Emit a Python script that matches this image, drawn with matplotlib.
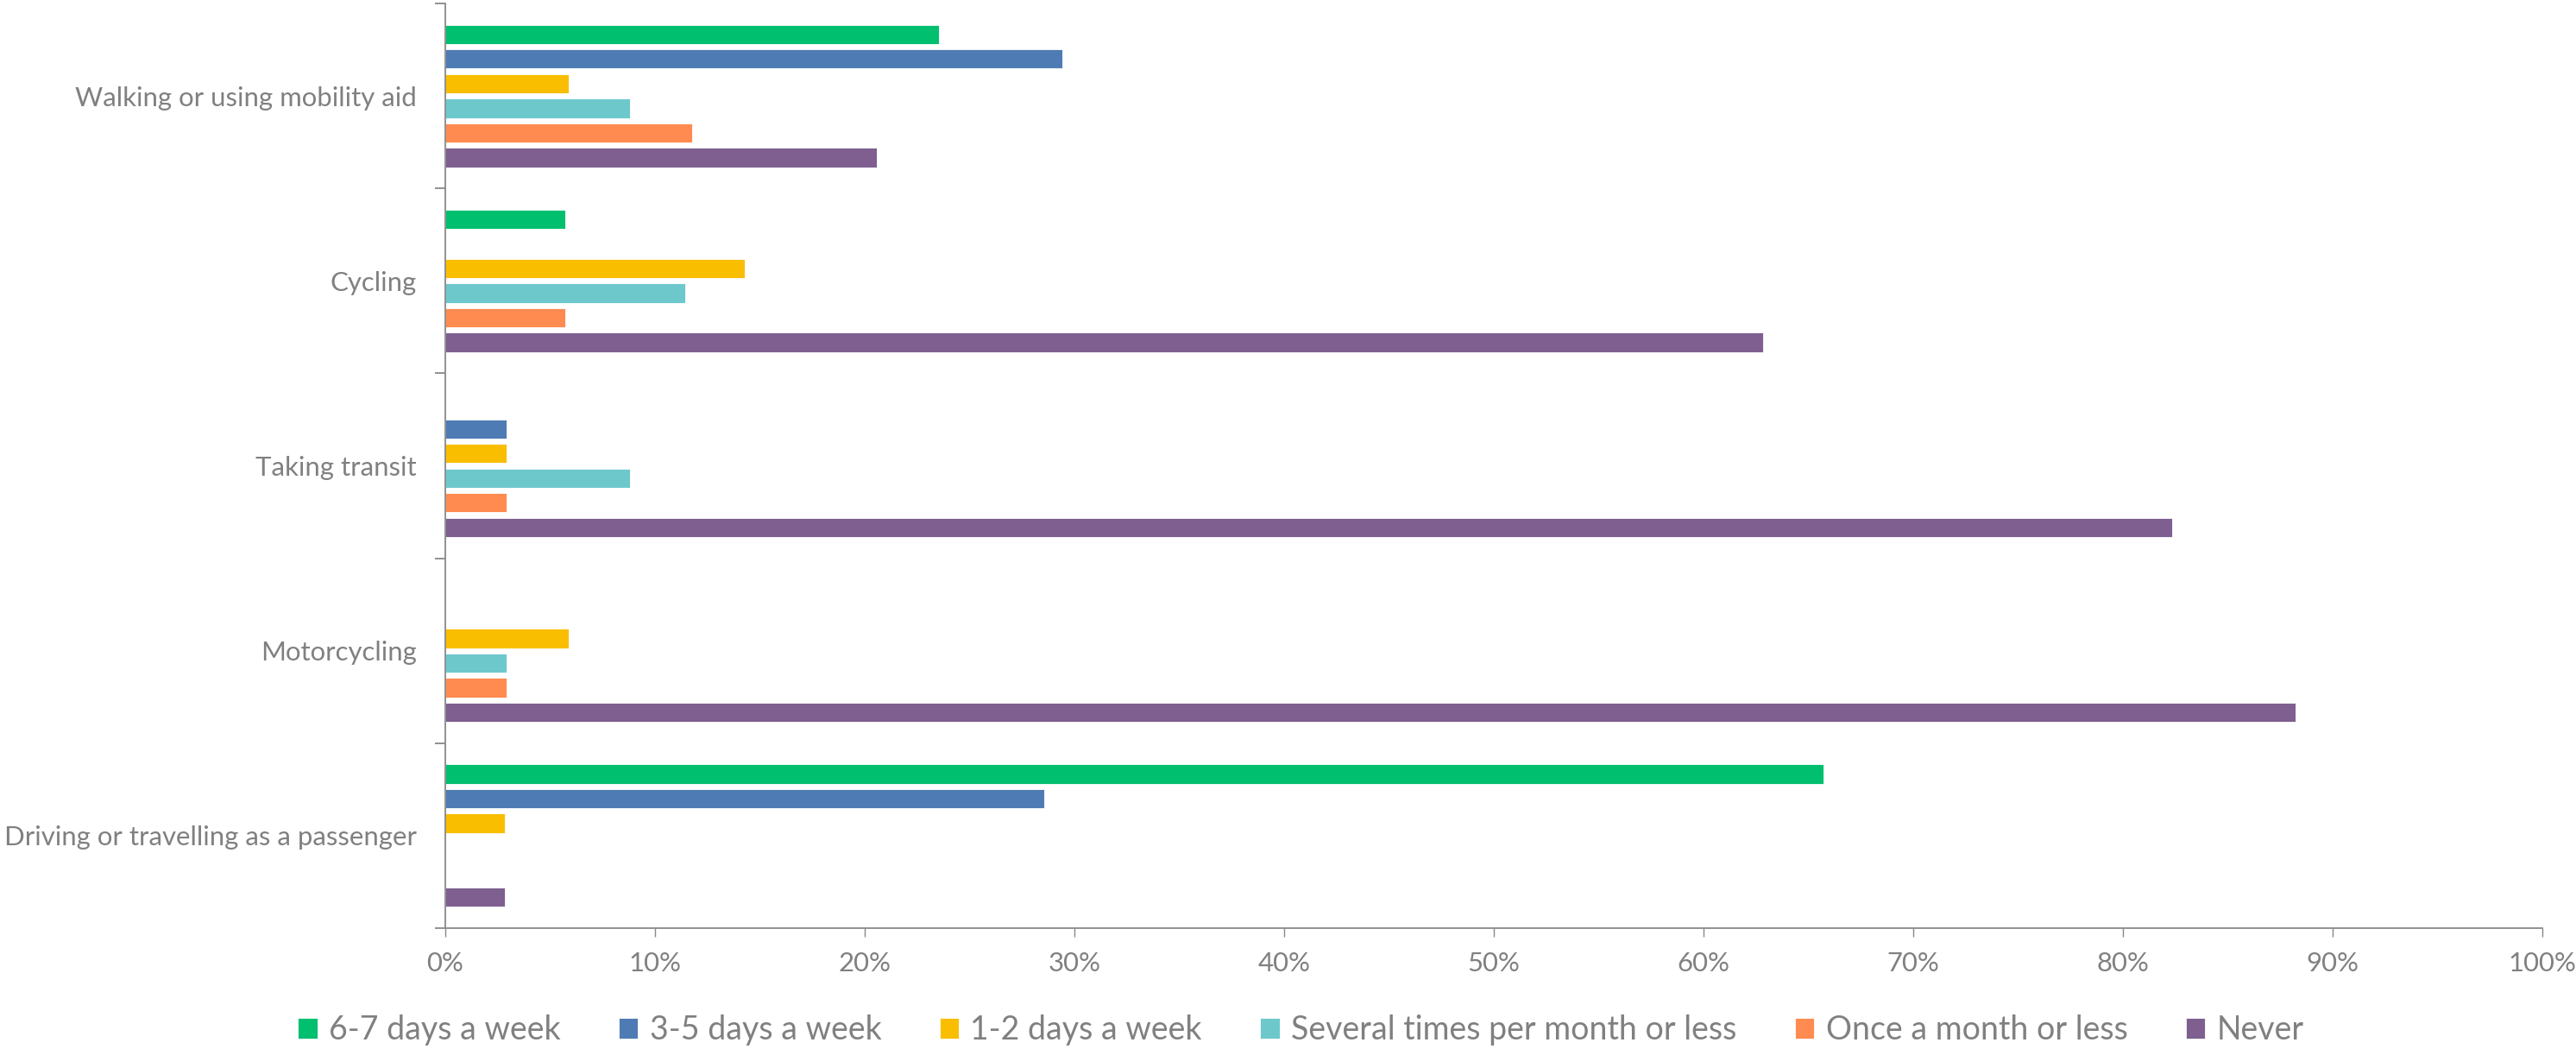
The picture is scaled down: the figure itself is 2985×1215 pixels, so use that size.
import numpy as np
import matplotlib.pyplot as plt

plt.rcParams['font.family'] = ['Lato', 'DejaVu Sans']

categories = ['Walking or using mobility aid', 'Cycling', 'Taking transit',
              'Motorcycling', 'Driving or travelling as a passenger']
series = ['6-7 days a week', '3-5 days a week', '1-2 days a week',
          'Several times per month or less', 'Once a month or less', 'Never']
colors = ['#00BF6F', '#4F7BB4', '#F9BE00', '#6DC8CC', '#FF8B50', '#7E5F8F']

# percent of respondents, one list per series (order follows categories)
days_6_7 = [23.53, 5.71, 0.0, 0.0, 65.71]
days_3_5 = [29.41, 0.0, 2.94, 0.0, 28.57]
days_1_2 = [5.88, 14.29, 2.94, 5.88, 2.86]
several_month = [8.82, 11.43, 8.82, 2.94, 0.0]
once_month = [11.76, 5.71, 2.94, 2.94, 0.0]
never = [20.59, 62.86, 82.35, 88.24, 2.86]
values = [days_6_7, days_3_5, days_1_2, several_month, once_month, never]

grey = '#888888'
text_grey = '#808080'

fig = plt.figure(figsize=(29.85, 12.15), dpi=100)
ax = fig.add_axes([516 / 2985, 1 - 1075 / 1215, (2946 - 516) / 2985, (1075 - 4) / 1215])

y = np.arange(len(categories))
step = 0.1332
for j, (name, vals, c) in enumerate(zip(series, values, colors)):
    ax.barh(y + (j - 2.5) * step, vals, height=0.104, color=c, label=name,
            edgecolor='white', linewidth=0.6)

ax.set_xlim(0, 100)
ax.set_ylim(4.5, -0.5)
ax.set_xticks(np.arange(0, 101, 10))
ax.set_xticklabels([f'{v}%' for v in range(0, 101, 10)])
ax.set_yticks(y)
ax.set_yticklabels(categories)
ax.set_yticks(np.arange(-0.5, 5, 1), minor=True)

for s in ['top', 'right']:
    ax.spines[s].set_visible(False)
for s in ['left', 'bottom']:
    ax.spines[s].set_color(grey)
    ax.spines[s].set_linewidth(1.3)

ax.tick_params(axis='y', which='major', length=0, pad=24, labelsize=22.4, labelcolor=text_grey)
ax.tick_params(axis='y', which='minor', length=8.5, width=1.3, color=grey)
ax.tick_params(axis='x', length=7.2, width=1.0, color=grey, pad=12, labelsize=22.4,
               labelcolor=text_grey)

leg = fig.legend(loc='center', bbox_to_anchor=(0.505, 1 - 1193 / 1215), ncol=6,
                 frameon=False, fontsize=27, handlelength=0.6, handleheight=0.6,
                 handletextpad=0.35, columnspacing=1.8, labelcolor=text_grey)

fig.savefig('out.png', dpi=100)
